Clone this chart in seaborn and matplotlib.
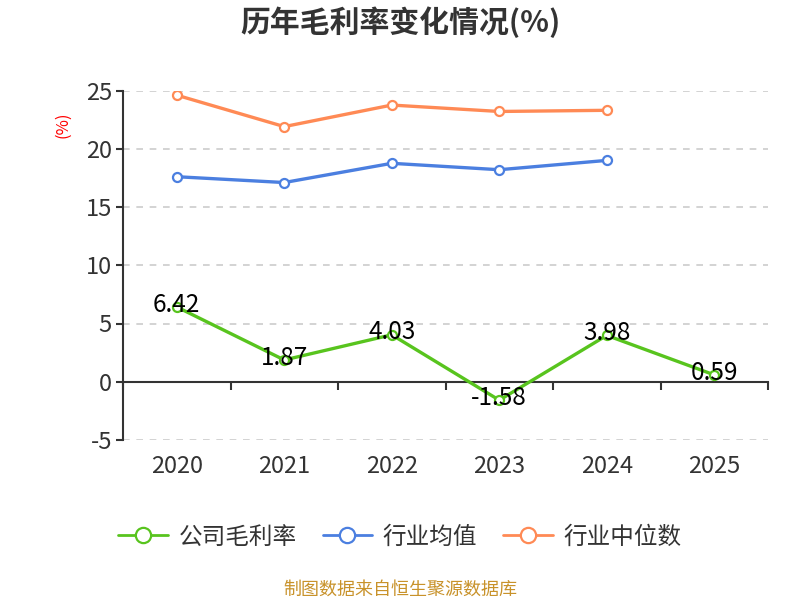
import matplotlib
matplotlib.use("Agg")
import matplotlib.pyplot as plt
from matplotlib.lines import Line2D
import seaborn as sns
import pandas as pd
import numpy as np

years = ["2020", "2021", "2022", "2023", "2024", "2025"]
company = [6.42, 1.87, 4.03, -1.58, 3.98, 0.59]
industry_avg = [17.6, 17.1, 18.75, 18.2, 19.0, np.nan]
industry_median = [24.6, 21.9, 23.75, 23.2, 23.3, np.nan]
series_names = ["公司毛利率", "行业均值", "行业中位数"]
colors = ["#58c41e", "#4b7fe0", "#ff8a55"]
title = "历年毛利率变化情况(%)"
source = "制图数据来自恒生聚源数据库"

sns.set_theme(style="white")
plt.rcParams["font.family"] = ["Noto Sans CJK SC", "DejaVu Sans"]
plt.rcParams["axes.unicode_minus"] = False

df = pd.DataFrame({
    "year": years * 3,
    "value": company + industry_avg + industry_median,
    "series": [series_names[0]] * 6 + [series_names[1]] * 6 + [series_names[2]] * 6,
})
df = df.dropna()

fig = plt.figure(figsize=(8, 6), dpi=100)
ax = fig.add_axes([123 / 800, 1 - 440 / 600, (768 - 123) / 800, (440 - 90.5) / 600])

sns.lineplot(data=df, x="year", y="value", hue="series", hue_order=series_names,
             palette=colors, marker="o", markersize=6.5, markerfacecolor="white",
             markeredgewidth=1.6, linewidth=2.4, ax=ax, legend=False, sort=False)
for line, c in zip(ax.get_lines(), colors):
    line.set_markeredgecolor(c)

ax.set_xlim(-0.5, len(years) - 0.5)
ax.set_ylim(-5, 25)
ax.set_yticks([-5, 0, 5, 10, 15, 20, 25])
ax.set_xticks(range(len(years)))
ax.set_xticklabels(years)
ax.set_xlabel("")
ax.set_ylabel("")

for sp in ["top", "right", "bottom"]:
    ax.spines[sp].set_visible(False)
ax.spines["left"].set_color("#333333")
ax.spines["left"].set_linewidth(1.5)

ax.tick_params(axis="x", length=0, pad=11, labelsize=17, labelcolor="#333333")
ax.tick_params(axis="y", length=5, width=1.5, color="#333333", direction="out",
               labelsize=17, labelcolor="#333333", pad=3, left=True)

for yv in [-5, 5, 10, 15, 20, 25]:
    ax.axhline(yv, color="#cccccc", linestyle=(0, (4, 4)), linewidth=1.2, zorder=0)

sec = ax.secondary_xaxis(0, transform=ax.transData)
sec.set_xticks(np.arange(-0.5, len(years), 1.0))
sec.set_xticklabels([])
sec.tick_params(axis="x", length=6, width=1.5, color="#333333", direction="out")
sec.spines["bottom"].set_color("#333333")
sec.spines["bottom"].set_linewidth(1.5)

for i, v in enumerate(company):
    ax.text(i, v + 0.2, f"{v:.2f}", ha="center", va="center", fontsize=17.5,
            color="black", zorder=5)

fig.text(63 / 800, 1 - 125 / 600, "(%)", color="red", rotation=90,
         ha="center", va="center", fontsize=12)
fig.text(0.5, 1 - 22 / 600, title, ha="center", va="center", fontsize=21.5,
         fontweight="bold", color="#333333")
fig.text(0.5, 1 - 590 / 600, source, ha="center", va="center", fontsize=13,
         color="#c8922a")

handles = [Line2D([0], [0], color=c, linewidth=2, marker="o", markersize=11,
                  markerfacecolor="white", markeredgecolor=c, markeredgewidth=1.6)
           for c in colors]
fig.legend(handles, series_names, loc="center", bbox_to_anchor=(0.5, 1 - 537 / 600),
           ncol=3, frameon=False, fontsize=17, handlelength=2.1, columnspacing=1.1,
           handletextpad=0.45, labelcolor="#333333")

fig.savefig("out.png", dpi=100)
